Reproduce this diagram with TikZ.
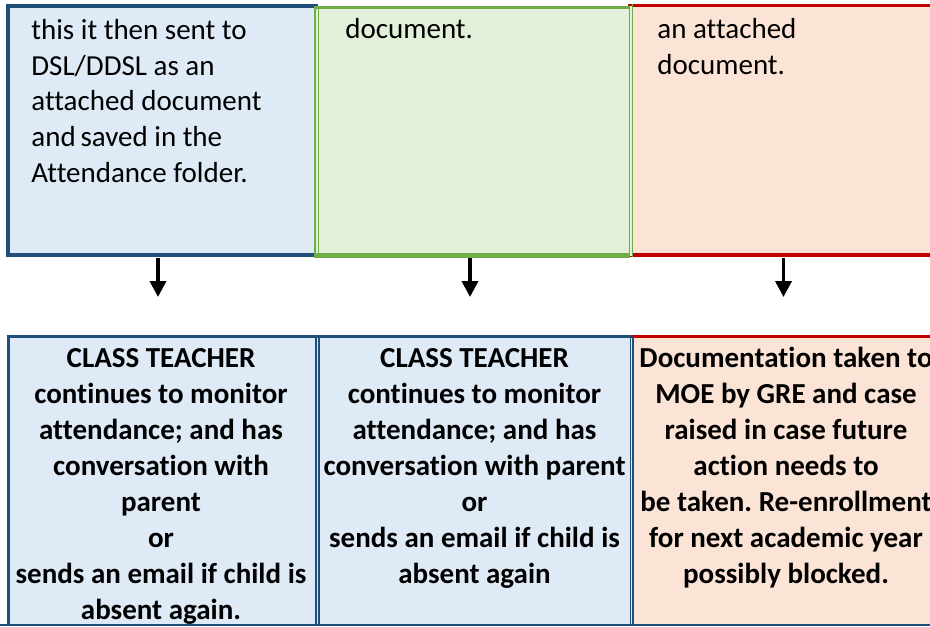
\documentclass[tikz,border=0pt]{standalone}
\usepackage{fontspec}
\setmainfont{Carlito}[Ligatures=CommonOff]
\usepackage{tikz}
\usetikzlibrary{arrows.meta}
\frenchspacing

\definecolor{bordblue}{HTML}{1F4E79}
\definecolor{fillblue}{HTML}{DEEAF6}
\definecolor{bordgreen}{HTML}{70AD47}
\definecolor{fillgreen}{HTML}{E2EFD9}
\definecolor{bordred}{HTML}{C00000}
\definecolor{fillred}{HTML}{FBE4D5}

\begin{document}
\begin{tikzpicture}[x=0.5pt,y=-0.5pt,
    toptext/.style={inner sep=0pt, align=left, anchor=base west,
        font=\fontsize{14.5}{17.8}\selectfont},
    bottext/.style={inner sep=0pt, align=center, anchor=base,
        font=\fontsize{14.5}{18}\selectfont\bfseries},
    down/.style={line width=1.8pt, -{Triangle[width=8pt,length=8pt]}},
    dbl/.style={line width=0.75pt}]
    \useasboundingbox (0,0) rectangle (930,626);
    \clip (0,0) rectangle (930,626);

    % upper row
    \draw[bordblue, fill=fillblue, line width=2pt] (8,6) rectangle (316,254.5);
    \fill[fillred] (630,5) rectangle (945,256);
    \draw[bordred, line width=1.6pt] (628,5.7) -- (945,5.7) (628,255) -- (945,255);
    \fill[fillgreen] (315,6) rectangle (632,256);
    \draw[bordgreen, line width=1.6pt] (314,7.5) -- (630,7.5);
    \draw[bordgreen, line width=2.2pt] (314,255.5) -- (630,255.5);
    \draw[bordgreen, dbl] (315,6) -- (315,258) (318.7,9) -- (318.7,253)
        (629.3,9) -- (629.3,253) (632.5,4) -- (632.5,257);

    % base anchor sits on the last line
    \node[toptext] (t1) at (31,182) {this it then sent to\\DSL/DDSL as an\\attached document\\and\,saved in the\\Attendance folder.};
    \node[toptext] (t2) at (345,39) {document.};
    \node[toptext] (t3) at (657,74.5) {an attached\\document.};

    % arrows between the rows
    \coordinate (s1) at (158,258);  \coordinate (e1) at (158,297);
    \coordinate (s2) at (470,258);  \coordinate (e2) at (470,297);
    \coordinate (s3) at (783.5,258); \coordinate (e3) at (783.5,297);
    \draw[down] (s1) -- (e1);
    \draw[down] (s2) -- (e2);
    \draw[down] (s3) -- (e3);

    % lower row
    \fill[fillblue] (7,336) rectangle (631,625);
    \fill[fillred] (631,336) rectangle (945,625);
    \draw[bordblue, line width=1.4pt] (6.5,336.3) -- (630.5,336.3);
    \draw[bordred, line width=1.4pt] (630.5,336.3) -- (945,336.3);
    \draw[bordblue, line width=1.5pt] (8,335) -- (8,625);
    \draw[bordblue, line width=0.8pt] (0,625) -- (945,625);
    \draw[bordblue, dbl] (315.8,337) -- (315.8,625) (318.8,337) -- (318.8,625)
        (630.6,337) -- (630.6,625) (632.8,337) -- (632.8,625);

    \node[bottext] (b1) at (161,619) {CLASS TEACHER\\continues to monitor\\attendance; and has\\conversation with\\parent\\or\\sends an email if child is\\absent again.};
    \node[bottext] (b2) at (474.5,583) {CLASS TEACHER\\continues to monitor\\attendance; and has\\conversation with parent\\or\\sends an email if child is\\absent again};
    \node[bottext] (b3) at (786,583) {Documentation taken to\\MOE by GRE and case\\raised in case future\\action needs to\\be taken. Re-enrollment\\for next academic year\\possibly blocked.};
\end{tikzpicture}
\end{document}
